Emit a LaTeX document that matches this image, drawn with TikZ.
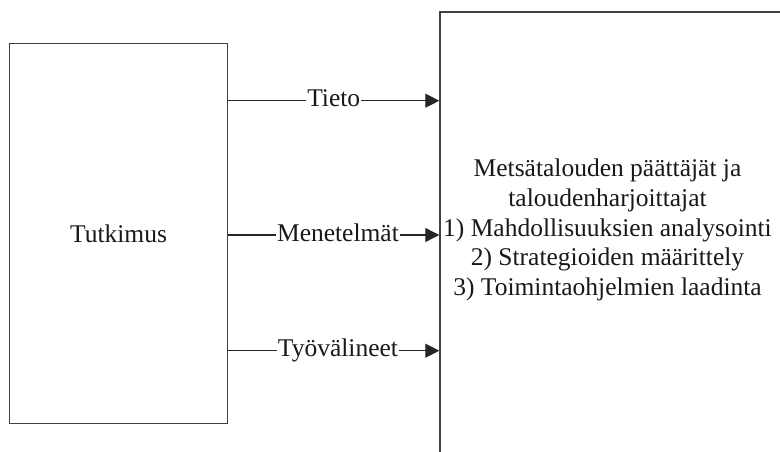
\documentclass[tikz,border=0pt]{standalone}
\usepackage{fontspec}
\setmainfont{Liberation Serif}
\usetikzlibrary{arrows.meta}

\tikzset{
  box/.style={draw=black!75, line width=1.4pt, inner sep=0pt},
  flow/.style={draw=black!85, line width=1.1pt, -{Triangle[length=14pt,width=14pt]}},
  flowlabel/.style={fill=white, inner sep=1pt, anchor=base, yshift=-6pt,
    font=\fontsize{25.5}{29.6}\selectfont, text=black!90},
  bodytext/.style={font=\fontsize{25.5}{29.6}\selectfont, text=black!90}
}

\begin{document}
\begin{tikzpicture}[x=1pt,y=-1pt]
  \useasboundingbox (0,0) rectangle (780,452);
  \clip (0,0) rectangle (780,452);
  \fill[white] (0,0) rectangle (780,452);

  % source box
  \node[box, minimum width=218pt, minimum height=380pt, bodytext] (src) at (118.5,233.6) {Tutkimus};

  % receiving box, running past the right and bottom edges
  \node[box, minimum width=350pt, minimum height=460pt] (dst) at (615,242) {};
  \node[bodytext, align=center, inner sep=0pt] (dsttext) at (607.5,230)
    {Metsätalouden päättäjät ja\\ taloudenharjoittajat\\ 1) Mahdollisuuksien analysointi\\
     2) Strategioiden määrittely\\ 3) Toimintaohjelmien laadinta};

  % flows from research to decision makers
  \coordinate (yA) at (0,100.7);
  \coordinate (yB) at (0,235);
  \coordinate (yC) at (0,350.7);
  \draw[flow] (src.east |- yA) -- node[flowlabel, pos=0.5] {Tieto} (dst.west |- yA);
  \draw[flow] (src.east |- yB) -- node[flowlabel, pos=0.52] {Menetelmät} (dst.west |- yB);
  \draw[flow] (src.east |- yC) -- node[flowlabel, pos=0.52] {Työvälineet} (dst.west |- yC);
\end{tikzpicture}
\end{document}
